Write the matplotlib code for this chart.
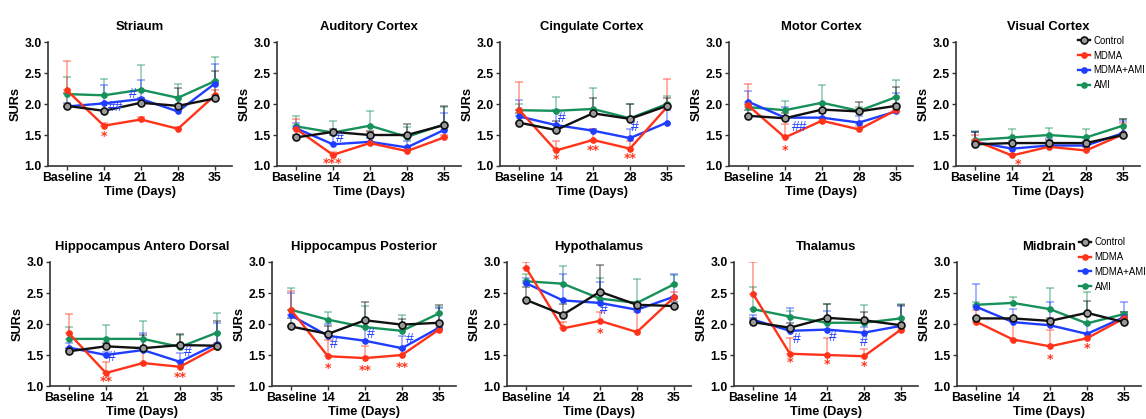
import numpy as np
import matplotlib
matplotlib.use("Agg")
import matplotlib.pyplot as plt

plt.rcParams['font.family'] = ['Liberation Sans', 'DejaVu Sans']

# ---------------- data ----------------
time_labels = ["Baseline", "14", "21", "28", "35"]
regions = ["Striaum", "Auditory Cortex", "Cingulate Cortex", "Motor Cortex", "Visual Cortex",
           "Hippocampus Antero Dorsal", "Hippocampus Posterior", "Hypothalamus", "Thalamus", "Midbrain"]
groups = ["Control", "MDMA", "MDMA+AMI", "AMI"]

# mean SURs, one row per region (same order as `regions`)
control_mean = [
    [1.97, 1.89, 2.02, 1.97, 2.09],
    [1.46, 1.55, 1.50, 1.50, 1.66],
    [1.70, 1.58, 1.85, 1.76, 1.97],
    [1.81, 1.77, 1.91, 1.88, 1.97],
    [1.35, 1.37, 1.37, 1.37, 1.50],
    [1.56, 1.64, 1.61, 1.66, 1.65],
    [1.96, 1.84, 2.06, 1.99, 2.02],
    [2.39, 2.15, 2.52, 2.31, 2.29],
    [2.03, 1.94, 2.10, 2.06, 1.98],
    [2.09, 2.09, 2.05, 2.18, 2.03],
]
mdma_mean = [
    [2.22, 1.65, 1.75, 1.60, 2.14],
    [1.60, 1.18, 1.37, 1.24, 1.46],
    [1.91, 1.25, 1.42, 1.28, 1.95],
    [1.98, 1.46, 1.73, 1.59, 1.90],
    [1.41, 1.17, 1.31, 1.25, 1.51],
    [1.85, 1.21, 1.37, 1.31, 1.63],
    [2.23, 1.48, 1.45, 1.50, 1.91],
    [2.91, 1.93, 2.05, 1.87, 2.43],
    [2.49, 1.52, 1.50, 1.48, 1.91],
    [2.04, 1.75, 1.64, 1.77, 2.09],
]
mdma_ami_mean = [
    [1.96, 2.01, 2.08, 1.88, 2.33],
    [1.61, 1.35, 1.39, 1.30, 1.58],
    [1.80, 1.66, 1.57, 1.45, 1.70],
    [2.04, 1.78, 1.78, 1.70, 1.88],
    [1.39, 1.28, 1.33, 1.33, 1.53],
    [1.62, 1.50, 1.58, 1.39, 1.68],
    [2.14, 1.81, 1.73, 1.61, 1.94],
    [2.66, 2.38, 2.34, 2.23, 2.44],
    [2.07, 1.89, 1.91, 1.86, 1.97],
    [2.28, 2.03, 1.98, 1.84, 2.11],
]
ami_mean = [
    [2.16, 2.14, 2.23, 2.10, 2.37],
    [1.64, 1.54, 1.65, 1.47, 1.67],
    [1.90, 1.89, 1.92, 1.77, 2.00],
    [1.95, 1.90, 2.02, 1.89, 2.11],
    [1.42, 1.46, 1.50, 1.46, 1.65],
    [1.76, 1.76, 1.76, 1.63, 1.86],
    [2.23, 2.07, 1.95, 1.89, 2.17],
    [2.69, 2.65, 2.41, 2.34, 2.64],
    [2.24, 2.12, 2.02, 2.02, 2.09],
    [2.31, 2.34, 2.24, 2.01, 2.16],
]

# upper error bars (SD)
control_sd = [
    [0.20, 0.12, 0.08, 0.29, 0.45],
    [0.04, 0.05, 0.06, 0.17, 0.31],
    [0.15, 0.14, 0.25, 0.24, 0.13],
    [0.09, 0.08, 0.09, 0.15, 0.31],
    [0.20, 0.08, 0.05, 0.08, 0.26],
    [0.04, 0.06, 0.21, 0.18, 0.40],
    [0.14, 0.12, 0.30, 0.09, 0.29],
    [0.21, 0.18, 0.43, 0.04, 0.06],
    [0.07, 0.08, 0.23, 0.14, 0.32],
    [0.01, 0.01, 0.05, 0.19, 0.17],
]
mdma_sd = [
    [0.48, 0.04, 0.04, 0.03, 0.09],
    [0.15, 0.04, 0.18, 0.03, 0.04],
    [0.44, 0.16, 0.18, 0.12, 0.45],
    [0.35, 0.21, 0.05, 0.06, 0.10],
    [0.09, 0.03, 0.04, 0.05, 0.19],
    [0.31, 0.18, 0.23, 0.07, 0.07],
    [0.31, 0.26, 0.19, 0.10, 0.09],
    [0.09, 0.10, 0.15, 0.33, 0.09],
    [0.51, 0.25, 0.27, 0.12, 0.09],
    [0.18, 0.30, 0.26, 0.08, 0.06],
]
mdma_ami_sd = [
    [0.05, 0.30, 0.30, 0.12, 0.31],
    [0.09, 0.15, 0.06, 0.10, 0.27],
    [0.27, 0.24, 0.02, 0.15, 0.20],
    [0.17, 0.17, 0.07, 0.10, 0.29],
    [0.16, 0.12, 0.12, 0.07, 0.19],
    [0.08, 0.05, 0.28, 0.15, 0.33],
    [0.36, 0.19, 0.22, 0.19, 0.32],
    [0.09, 0.43, 0.34, 0.07, 0.36],
    [0.08, 0.37, 0.30, 0.09, 0.32],
    [0.37, 0.22, 0.38, 0.16, 0.24],
]
ami_sd = [
    [0.28, 0.26, 0.40, 0.23, 0.39],
    [0.17, 0.19, 0.23, 0.16, 0.28],
    [0.10, 0.22, 0.33, 0.23, 0.13],
    [0.05, 0.15, 0.29, 0.06, 0.27],
    [0.15, 0.14, 0.11, 0.14, 0.10],
    [0.19, 0.23, 0.29, 0.19, 0.31],
    [0.35, 0.13, 0.34, 0.25, 0.11],
    [0.11, 0.28, 0.33, 0.38, 0.15],
    [0.35, 0.09, 0.30, 0.28, 0.24],
    [0.04, 0.09, 0.34, 0.50, 0.04],
]

# significance marks: (region index, group, time index, text)
star_marks = [
    (0, "MDMA", 1, "*"),
    (1, "MDMA", 1, "***"),
    (2, "MDMA", 1, "*"), (2, "MDMA", 2, "**"), (2, "MDMA", 3, "**"),
    (3, "MDMA", 1, "*"),
    (4, "MDMA", 1, "*"),
    (5, "MDMA", 1, "**"), (5, "MDMA", 3, "**"),
    (6, "MDMA", 1, "*"), (6, "MDMA", 2, "**"), (6, "MDMA", 3, "**"),
    (7, "MDMA", 2, "*"),
    (8, "MDMA", 1, "*"), (8, "MDMA", 2, "*"), (8, "MDMA", 3, "*"),
    (9, "MDMA", 2, "*"), (9, "MDMA", 3, "*"),
]
hash_marks = [
    (0, "MDMA+AMI", 1, "##"), (0, "MDMA+AMI", 2, "#"),
    (1, "MDMA+AMI", 1, "#"),
    (2, "MDMA+AMI", 1, "#"), (2, "MDMA+AMI", 3, "#"),
    (3, "MDMA+AMI", 1, "##"),
    (5, "MDMA+AMI", 1, "#"), (5, "MDMA+AMI", 3, "#"),
    (6, "MDMA+AMI", 1, "#"), (6, "MDMA+AMI", 2, "#"), (6, "MDMA+AMI", 3, "#"),
    (7, "MDMA+AMI", 2, "#"),
    (8, "MDMA+AMI", 1, "#"), (8, "MDMA+AMI", 2, "#"), (8, "MDMA+AMI", 3, "#"),
]
# label offsets (pixels) relative to the point
star_offsets = [(0, -8), (0, -6), (0, -6), (0, -8), (0, -7), (0, -10), (6, -6),
                (0, -6), (0, -8), (0, -9), (0, -9), (0, -9), (0, -10),
                (0, -6), (0, -6), (0, -7), (0, -10), (0, -7)]
hash_offsets = [(12, -4), (-8, 5), (7, 6), (6, 7), (5, 11), (15, -9),
                (6, -2), (8, 10), (6, -8), (6, 7), (8, 9), (4, -7),
                (7, -8), (6, -7), (0, -9)]

# ---------------- style ----------------
colors = {"Control": "#111111", "MDMA": "#FF3319", "MDMA+AMI": "#1F3DFF", "AMI": "#17915A"}
means = {"Control": control_mean, "MDMA": mdma_mean, "MDMA+AMI": mdma_ami_mean, "AMI": ami_mean}
sds = {"Control": control_sd, "MDMA": mdma_sd, "MDMA+AMI": mdma_ami_sd, "AMI": ami_sd}
draw_order = ["AMI", "MDMA+AMI", "MDMA", "Control"]

W, H = 1146, 419
fig = plt.figure(figsize=(W / 100, H / 100), dpi=100)

lefts = [48, 277, 500, 729, 956, 50, 272, 507, 734, 957]
bottoms = [253] * 5 + [33] * 5
aw, ah = 184, 124

x = np.arange(len(time_labels))
axes = []
for i, reg in enumerate(regions):
    ax = fig.add_axes([lefts[i] / W, bottoms[i] / H, aw / W, ah / H])
    axes.append(ax)
    handles = {}
    for g in draw_order:
        m = np.array(means[g][i])
        s = np.array(sds[g][i])
        c = colors[g]
        ax.errorbar(x, m, yerr=[np.zeros_like(s), s], fmt='none', ecolor=c, alpha=0.5,
                    elinewidth=1.1, capsize=2.8, capthick=1.1, zorder=2)
        if g == "Control":
            h, = ax.plot(x, m, color=c, lw=1.7, marker='o', ms=5.0, mfc='#9a9a9a',
                         mec=c, mew=1.2, zorder=5, label=g)
        else:
            h, = ax.plot(x, m, color=c, lw=1.7, marker='o', ms=3.8, mfc=c, mec=c,
                         zorder=4, label=g)
        handles[g] = h
    ax.set_xlim(-0.51, 4.46)
    ax.set_ylim(1.0, 3.0)
    ax.set_yticks([1.0, 1.5, 2.0, 2.5, 3.0])
    ax.set_yticklabels(["1.0", "1.5", "2.0", "2.5", "3.0"])
    ax.set_xticks(x)
    ax.set_xticklabels(time_labels)
    for sp in ["top", "right"]:
        ax.spines[sp].set_visible(False)
    for sp in ["left", "bottom"]:
        ax.spines[sp].set_color("#333333")
        ax.spines[sp].set_linewidth(1.2)
    ax.tick_params(axis='both', length=3, width=1.0, color="#333333", pad=1.5,
                   labelsize=8.8)
    for lab in ax.get_xticklabels() + ax.get_yticklabels():
        lab.set_fontweight('bold')
    ax.set_title(reg, fontsize=9.4, fontweight='bold', pad=9)
    ax.set_xlabel("Time (Days)", fontsize=9.2, fontweight='bold', labelpad=1)
    ax.set_ylabel("SURs", fontsize=9.2, fontweight='bold', labelpad=2)
    if i in (4, 9):
        top = 1.05 if i == 4 else 1.20
        ax.legend([handles[g] for g in groups], groups, loc='upper left',
                  bbox_to_anchor=(0.665, top), frameon=False, fontsize=6.9,
                  handlelength=1.2, handletextpad=0.4, labelspacing=0.5,
                  borderpad=0, borderaxespad=0)

for (ri, g, ti, txt), (dx, dy) in zip(star_marks, star_offsets):
    axes[ri].annotate(txt, xy=(x[ti], means[g][ri][ti]), xytext=(dx, dy - 3),
                      textcoords='offset pixels', ha='center', va='center',
                      color=colors["MDMA"], fontsize=8.8, fontweight='bold',
                      fontfamily='DejaVu Sans', zorder=6)
for (ri, g, ti, txt), (dx, dy) in zip(hash_marks, hash_offsets):
    axes[ri].annotate(txt, xy=(x[ti], means[g][ri][ti]), xytext=(dx, dy),
                      textcoords='offset pixels', ha='center', va='center',
                      color=colors["MDMA+AMI"], fontsize=10, zorder=6)

fig.savefig("out.png", dpi=100)
